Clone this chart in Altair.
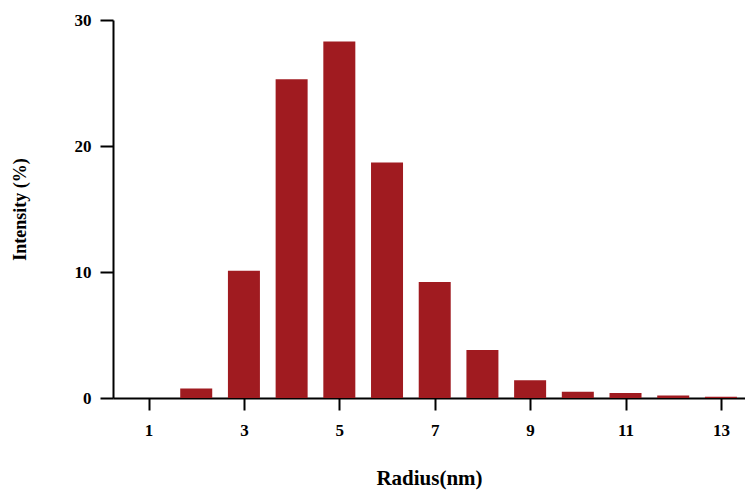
import altair as alt
import pandas as pd

radius = [2, 3, 4, 5, 6, 7, 8, 9, 10, 11, 12, 13]
intensity = [0.75, 10.1, 25.3, 28.3, 18.7, 9.2, 3.8, 1.4, 0.5, 0.4, 0.2, 0.1]
x_ticks = [1, 3, 5, 7, 9, 11, 13]
y_ticks = [0, 10, 20, 30]

df = pd.DataFrame({"radius": radius, "intensity": intensity})

font = "Liberation Serif"

chart = alt.Chart(df).mark_bar(size=32, color="#A01B20").encode(
    x=alt.X(
        "radius:Q",
        scale=alt.Scale(domain=[0.36, 13.4], nice=False, zero=False),
        axis=alt.Axis(
            values=x_ticks, title="Radius(nm)", grid=False,
            domainColor="black", domainWidth=2, tickColor="black", tickWidth=2,
            tickSize=12, labelPadding=12, labelFont=font, labelFontSize=17,
            labelFontWeight="bold", labelColor="black", titleFont=font,
            titleFontSize=21, titleFontWeight="bold", titleColor="black",
            titlePadding=29,
        ),
    ),
    y=alt.Y(
        "intensity:Q",
        scale=alt.Scale(domain=[0, 30], nice=False),
        axis=alt.Axis(
            values=y_ticks, title="Intensity (%)", grid=False,
            domainColor="black", domainWidth=2, tickColor="black", tickWidth=2,
            tickSize=13, labelPadding=9, labelFont=font, labelFontSize=17,
            labelFontWeight="bold", labelColor="black", titleFont=font,
            titleFontSize=18, titleFontWeight="bold", titleColor="black",
            titlePadding=45,
        ),
    ),
).properties(
    width=632,
    height=378,
    autosize=alt.AutoSizeParams(type="none"),
    padding={"left": 105, "top": 12, "right": 0, "bottom": 94},
).configure_view(stroke=None)

chart.save("out.html", embed_options={"renderer": "svg", "actions": False})
